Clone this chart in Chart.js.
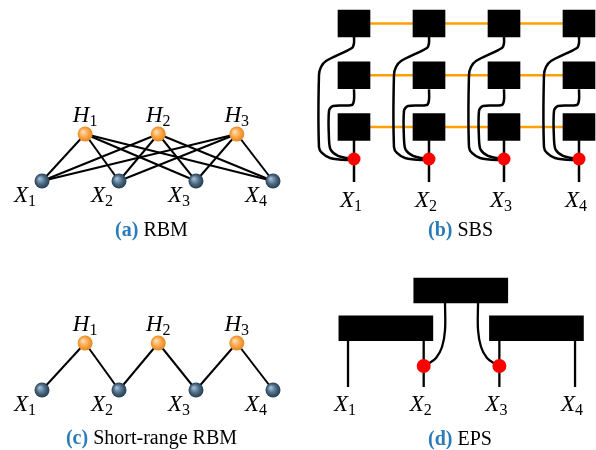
<!DOCTYPE html>
<html><head><meta charset="utf-8">
<script src="https://cdn.jsdelivr.net/npm/chart.js@4"></script>
<style>
html,body{margin:0;padding:0;background:#fff;width:596px;height:450px;overflow:hidden}
canvas{position:absolute;display:block}
</style></head><body>
<canvas id="pa" width="298" height="250" style="left:0;top:0"></canvas>
<canvas id="pb" width="298" height="250" style="left:298px;top:0"></canvas>
<canvas id="pc" width="298" height="200" style="left:0;top:250px"></canvas>
<canvas id="pd" width="298" height="200" style="left:298px;top:250px"></canvas>
<script>
// ================= DATA =================
// RBM / short-range RBM : visible units X_i on layer 0, hidden units H_j on layer 1
const visibleIndex = [1, 2, 3, 4];
const hiddenIndex = [1, 2, 3];
const hiddenX = [1.56, 2.51, 3.53];           // where H_j sits along the X axis
const rbmEdges = [[1,1],[1,2],[1,3],[1,4],[2,1],[2,2],[2,3],[2,4],[3,1],[3,2],[3,3],[3,4]]; // [H, X]
const shortEdges = [[1,1],[1,2],[2,2],[2,3],[3,3],[3,4]];

// SBS : 4 columns x 3 rows of tensors, wires into the visible node
const sbsColumns = [1, 2, 3, 4];
const sbsRows = [1, 2, 3];
const sbsNodeRow = 3.618;
const sbsStubEnd = 4.063;
const sbsOuterDx  = [0, 0, -0.027, -0.373, -0.44, -0.467, -0.467, -0.427, -0.32, -0.093, 0];
const sbsOuterRow = [1.261, 1.377, 1.473, 1.725, 1.841, 1.995, 3.386, 3.502, 3.599, 3.638, 3.618];
const sbsInnerDx  = [0, 0, -0.03, -0.28, -0.333, -0.333, -0.31, -0.213, -0.1, 0];
const sbsInnerRow = [2.270, 2.478, 2.575, 2.594, 2.685, 3.251, 3.444, 3.560, 3.600, 3.618];

// EPS : three plaquettes on two levels
const epsBoxCenter = [1.5, 2.49, 3.49];
const epsBoxLevel = [1, 2, 1];
const epsRedNodes = [2, 3];
const epsStubTop = 0.669;
const epsStubBottom = -0.556;
const epsCurveLX = [2.282, 2.282, 2.242, 2.163, 2.057, 2];
const epsCurveRX = [2.718, 2.718, 2.758, 2.837, 2.943, 3];
const epsCurveLevel = [1.669, 0.954, 0.503, 0.212, 0.053, 0];

// captions
const captionTags = ['(a)', '(b)', '(c)', '(d)'];
const captionTexts = ['RBM', 'SBS', 'Short-range RBM', 'EPS'];
const visibleName = 'X';
const hiddenName = 'H';

// ================= STYLE =================
const SERIF = '"Liberation Serif", "DejaVu Serif", serif';
const MAIN_FONT = 'italic 23px ' + SERIF;
const SUB_FONT = '16px ' + SERIF;
const CAP_BOLD = 'bold 20px ' + SERIF;
const CAP_FONT = '20px ' + SERIF;
const CAP_BLUE = '#2a7bb8';
const ORANGE_LINE = '#ffa000';
const SBS_HALF = 0.261;
const EPS_HALF = 0.331;

function sphere(light, base, dark) {
  return (ctx) => {
    if (ctx.type !== 'data' || !ctx.raw) return base;
    const ch = ctx.chart;
    if (!ch.scales || !ch.scales.x || !ch.scales.y) return base;
    const px = ch.scales.x.getPixelForValue(ctx.raw.x);
    const py = ch.scales.y.getPixelForValue(ctx.raw.y);
    if (!isFinite(px) || !isFinite(py)) return base;
    const g = ch.ctx.createRadialGradient(px - 2.5, py - 2.5, 0.3, px, py, 7.8);
    g.addColorStop(0, light);
    g.addColorStop(0.55, base);
    g.addColorStop(1, dark);
    return g;
  };
}
const blueBall = sphere('#a9c0d2', '#4a6a85', '#23384c');
const orangeBall = sphere('#ffe0b8', '#fba64a', '#e5841a');

function drawSub(ctx, px, py, main, sub, align) {
  ctx.font = MAIN_FONT;
  const w1 = ctx.measureText(main).width;
  ctx.font = SUB_FONT;
  const w2 = ctx.measureText(sub).width;
  const total = w1 + w2;
  let x0 = px;
  if (align === 'center') x0 = px - total / 2;
  else if (align === 'right') x0 = px - total;
  ctx.textAlign = 'left';
  ctx.textBaseline = 'alphabetic';
  ctx.font = MAIN_FONT;
  ctx.fillText(main, x0, py);
  ctx.font = SUB_FONT;
  ctx.fillText(sub, x0 + w1, py + 4);
}

const textPlugin = {
  id: 'diagramText',
  afterDatasetsDraw(chart, args, opts) {
    const ctx = chart.ctx, xs = chart.scales.x, ys = chart.scales.y;
    ctx.save();
    ctx.fillStyle = '#000';
    (opts.labels || []).forEach(l => {
      drawSub(ctx, xs.getPixelForValue(l.x) + l.dx, ys.getPixelForValue(l.y) + l.dy, l.main, l.sub, 'center');
    });
    if (opts.caption) {
      const c = opts.caption;
      ctx.font = CAP_BOLD;
      const w1 = ctx.measureText(c.tag + ' ').width;
      ctx.font = CAP_FONT;
      const w2 = ctx.measureText(c.text).width;
      const x0 = c.cx - (w1 + w2) / 2;
      ctx.textAlign = 'left';
      ctx.textBaseline = 'alphabetic';
      ctx.font = CAP_BOLD;
      ctx.fillStyle = CAP_BLUE;
      ctx.fillText(c.tag, x0, c.baseline);
      ctx.font = CAP_FONT;
      ctx.fillStyle = '#000';
      ctx.fillText(c.text, x0 + w1, c.baseline);
    }
    ctx.restore();
  }
};

function lineDs(points, color, width, tension, order) {
  return {
    data: points, showLine: true, borderColor: color, borderWidth: width,
    pointRadius: 0, pointHoverRadius: 0, tension: tension || 0, order: order,
    backgroundColor: color, fill: false
  };
}

function makeChart(id, datasets, xr, yr, reverse, textOpts) {
  const ch = new Chart(document.getElementById(id), {
    type: 'scatter',
    data: { datasets },
    options: {
      responsive: false, animation: false, devicePixelRatio: 1, events: [],
      layout: { padding: 0, autoPadding: false },
      scales: {
        x: { type: 'linear', display: false, min: xr[0], max: xr[1], offset: false, grid: { display: false } },
        y: { type: 'linear', display: false, min: yr[0], max: yr[1], reverse: reverse, grid: { display: false } }
      },
      plugins: { legend: { display: false }, tooltip: { enabled: false }, diagramText: textOpts }
    },
    plugins: [textPlugin]
  });
  ch.update('none');
  return ch;
}

// ---------- RBM-type panels ----------
function rbmPanel(id, edges, yr, capIdx, capBaseline) {
  const ds = [];
  ds.push({ data: visibleIndex.map(i => ({ x: i, y: 0 })), pointRadius: 7.5, borderWidth: 0,
            backgroundColor: blueBall, order: 0 });
  ds.push({ data: hiddenX.map(x => ({ x: x, y: 1 })), pointRadius: 7.5, borderWidth: 0,
            backgroundColor: orangeBall, order: 0 });
  edges.forEach(([h, v]) => ds.push(lineDs([{ x: hiddenX[h - 1], y: 1 }, { x: v, y: 0 }], '#000', 2, 0, 5)));
  const labels = [];
  hiddenIndex.forEach(j => labels.push({ x: hiddenX[j - 1], y: 1, dx: 0, dy: -12, main: hiddenName, sub: String(j) }));
  visibleIndex.forEach(i => labels.push({ x: i, y: 0, dx: -17, dy: 21, main: visibleName, sub: String(i) }));
  makeChart(id, ds, [0.4545, 4.3247], yr, false,
    { labels, caption: { tag: captionTags[capIdx], text: captionTexts[capIdx], cx: 151.5, baseline: capBaseline } });
}
rbmPanel('pa', rbmEdges, [-1.468, 3.851], 0, 236);
rbmPanel('pc', shortEdges, [-1.2766, 2.9787], 2, 194);

// ---------- SBS ----------
(function () {
  const ds = [];
  ds.push({ data: sbsColumns.map(c => ({ x: c, y: sbsNodeRow })), pointRadius: 6.5, borderWidth: 0,
            backgroundColor: '#ff0000', order: 0 });
  const boxes = [];
  sbsColumns.forEach(c => sbsRows.forEach(r => boxes.push({ x: c, y: [r - SBS_HALF, r + SBS_HALF] })));
  ds.push({ type: 'bar', data: boxes, backgroundColor: '#000', borderWidth: 0, barThickness: 32, order: 1 });
  sbsColumns.forEach(c => {
    ds.push(lineDs(sbsOuterDx.map((d, k) => ({ x: c + d, y: sbsOuterRow[k] })), '#000', 2.5, 0.3, 2));
    ds.push(lineDs(sbsInnerDx.map((d, k) => ({ x: c + d, y: sbsInnerRow[k] })), '#000', 2.5, 0.3, 2));
    ds.push(lineDs([{ x: c, y: sbsRows[2] }, { x: c, y: sbsStubEnd }], '#000', 2.5, 0, 2));
  });
  sbsRows.forEach(r => ds.push(lineDs([{ x: sbsColumns[0], y: r }, { x: sbsColumns[3], y: r }], ORANGE_LINE, 2.5, 0, 4)));
  const labels = sbsColumns.map(c => ({ x: c, y: sbsStubEnd, dx: -3, dy: 25, main: visibleName, sub: String(c) }));
  makeChart('pb', ds, [0.2533, 4.2267], [0.5459, 5.3768], true,
    { labels, caption: { tag: captionTags[1], text: captionTexts[1], cx: 162.5, baseline: 236 } });
})();

// ---------- EPS ----------
(function () {
  const ds = [];
  ds.push({ data: epsRedNodes.map(i => ({ x: i, y: 0 })), pointRadius: 7, borderWidth: 0,
            backgroundColor: '#ff0000', order: 0 });
  ds.push({ type: 'bar', data: epsBoxCenter.map((x, k) => ({ x: x, y: [epsBoxLevel[k] - EPS_HALF, epsBoxLevel[k] + EPS_HALF] })),
            backgroundColor: '#000', borderWidth: 0, barThickness: 94, order: 1 });
  visibleIndex.forEach(i => ds.push(lineDs([{ x: i, y: epsStubTop }, { x: i, y: epsStubBottom }], '#000', 2.3, 0, 2)));
  ds.push(lineDs(epsCurveLX.map((x, k) => ({ x: x, y: epsCurveLevel[k] })), '#000', 2.3, 0.35, 2));
  ds.push(lineDs(epsCurveRX.map((x, k) => ({ x: x, y: epsCurveLevel[k] })), '#000', 2.3, 0.35, 2));
  const labels = visibleIndex.map(i => ({ x: i, y: epsStubBottom, dx: -3, dy: 24, main: visibleName, sub: String(i) }));
  makeChart('pd', ds, [0.339, 4.277], [-2.2252, 3.0728], false,
    { labels, caption: { tag: captionTags[3], text: captionTexts[3], cx: 162, baseline: 195 } });
})();
</script>
</body></html>
